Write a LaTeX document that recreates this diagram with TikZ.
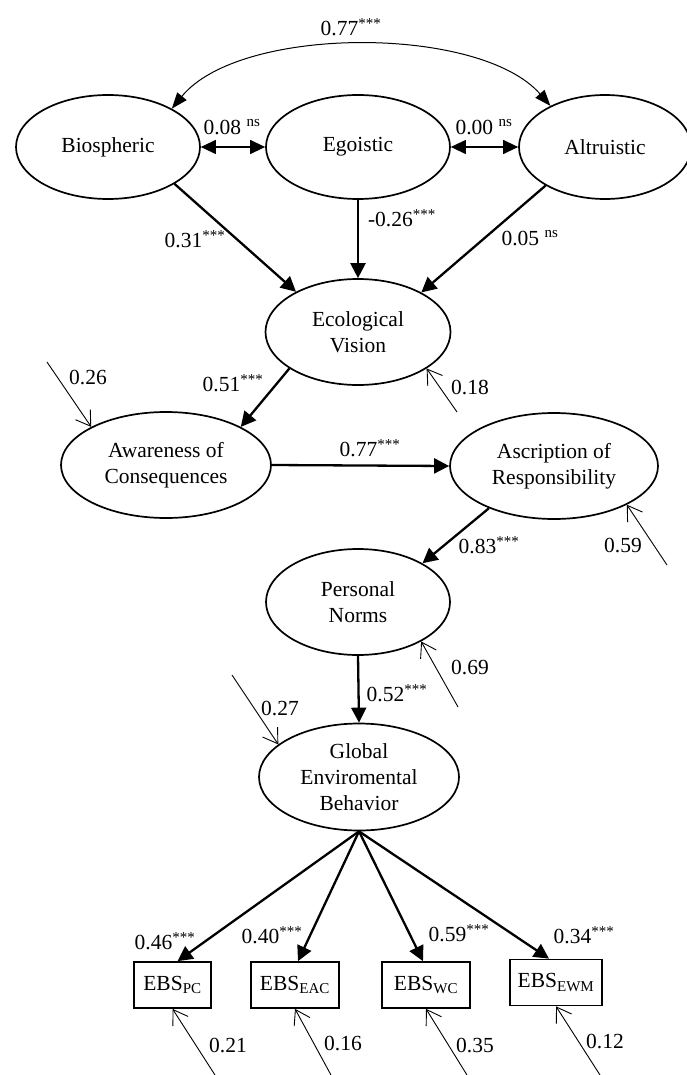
\documentclass[tikz,border=0pt]{standalone}
\usepackage{fontspec}
\setmainfont{Liberation Serif}
\usetikzlibrary{shapes.geometric, arrows.meta}
\tikzstyle{latent} = [ellipse, draw=black, line width=1.7pt, inner sep=0pt, align=center]
\tikzstyle{observed} = [rectangle, draw=black, line width=1.7pt, minimum height=46pt, inner sep=0pt]
\tikzstyle{regarrow} = [line width=2.3pt, -{Triangle[length=15pt,width=15pt]}]
\tikzstyle{corarrow} = [line width=1.2pt, {Triangle[length=15pt,width=14pt]}-{Triangle[length=15pt,width=14pt]}]
\tikzstyle{errarrow} = [line width=0.9pt, -{Straight Barb[length=14pt,width=18pt]}]
\tikzstyle{coef} = [inner sep=0pt]

\begin{document}
\begin{tikzpicture}[x=1pt, y=-1pt, font=\fontsize{21.5}{26}\selectfont]

  \useasboundingbox (0,0) rectangle (687,1075);

  % values
  \node[latent, minimum width=184pt, minimum height=104pt] (bio) at (108,147) {Biospheric};
  \node[latent, minimum width=184pt, minimum height=104pt] (ego) at (358,147) {Egoistic};
  \node[latent, minimum width=172pt, minimum height=104pt] (alt) at (605,147) {Altruistic};

  \draw[corarrow] (bio.east) -- (ego.west);
  \draw[corarrow] (ego.east) -- (alt.west);
  \draw[line width=1pt, {Triangle[length=16pt,width=12pt]}-{Triangle[length=16pt,width=12pt]}]
    (bio.31) .. controls (240,25) and (480,25) .. (alt.143);

  \node[coef] (c1) at (351,27) {0.77\textsuperscript{***}};
  \node[coef] (c2) at (232,127) {0.08 \textsuperscript{ns}};
  \node[coef] (c3) at (484,127) {0.00 \textsuperscript{ns}};

  % ecological vision
  \node[latent, minimum width=185pt, minimum height=106pt] (ev) at (358,332) {Ecological\\Vision};

  \draw[regarrow] (bio.-29) -- (ev.147);
  \draw[regarrow] (ego.south) -- (ev.north);
  \draw[regarrow] (alt.-147) -- (ev.32);

  \node[coef] (c4) at (195,239) {0.31\textsuperscript{***}};
  \node[coef] (c5) at (402,218) {-0.26\textsuperscript{***}};
  \node[coef] (c6) at (530,238) {0.05 \textsuperscript{ns}};

  \coordinate (eev) at (457,412);
  \draw[errarrow] (eev) -- (ev.-28);
  \node[coef] (c7) at (470,388) {0.18};

  % awareness and ascription
  \node[latent, minimum width=210pt, minimum height=106pt] (ac) at (166,465) {Awareness of\\Consequences};
  \node[latent, minimum width=208pt, minimum height=106pt] (ar) at (554,466) {Ascription of\\Responsibility};

  \draw[regarrow] (ev.-152) -- (ac.27);
  \draw[regarrow] (ac.east) -- (ar.west);

  \node[coef] (c8) at (233,383) {0.51\textsuperscript{***}};
  \node[coef] (c9) at (370,448) {0.77\textsuperscript{***}};

  \coordinate (eac) at (47,362);
  \draw[errarrow] (eac) -- (ac.153);
  \node[coef] (c10) at (88,378) {0.26};

  \coordinate (ear) at (667,565);
  \draw[errarrow] (ear) -- (ar.-28);
  \node[coef] (c11) at (623,545) {0.59};

  % personal norms
  \node[latent, minimum width=184pt, minimum height=106pt] (pn) at (358,602) {Personal\\Norms};

  \draw[regarrow] (ar.-147) -- (pn.31);
  \node[coef] (c12) at (489,545) {0.83\textsuperscript{***}};

  \coordinate (epn) at (458,707);
  \draw[errarrow] (epn) -- (pn.-32);
  \node[coef] (c13) at (470,667) {0.69};

  % behavior
  \node[latent, minimum width=200pt, minimum height=107pt] (geb) at (359,777) {Global\\Enviromental\\Behavior};

  \draw[regarrow] (pn.south) -- (geb.north);
  \node[coef] (c14) at (397,693) {0.52\textsuperscript{***}};

  \coordinate (egeb) at (232,675);
  \draw[errarrow] (egeb) -- (geb.158);
  \node[coef] (c15) at (280,708) {0.27};

  % indicators
  \node[observed, minimum width=77pt] (pc) at (172.5,985) {EBS\textsubscript{PC}};
  \node[observed, minimum width=88pt] (eac2) at (295,985) {EBS\textsubscript{EAC}};
  \node[observed, minimum width=88pt] (wc) at (426,985) {EBS\textsubscript{WC}};
  \node[observed, minimum width=92pt] (ewm) at (556,982.5) {EBS\textsubscript{EWM}};

  \draw[regarrow] (geb.south) -- ([xshift=5pt]pc.north);
  \draw[regarrow] (geb.south) -- ([xshift=3pt]eac2.north);
  \draw[regarrow] (geb.south) -- ([xshift=-3pt]wc.north);
  \draw[regarrow] (geb.south) -- ([xshift=-7pt]ewm.north);

  \node[coef] (c16) at (165,941) {0.46\textsuperscript{***}};
  \node[coef] (c17) at (272,935) {0.40\textsuperscript{***}};
  \node[coef] (c18) at (459,933) {0.59\textsuperscript{***}};
  \node[coef] (c19) at (584,935) {0.34\textsuperscript{***}};

  \coordinate (epc) at (215,1075);
  \coordinate (eeac) at (331,1075);
  \coordinate (ewc) at (467,1075);
  \coordinate (eewm) at (600,1075);
  \draw[errarrow] (epc) -- (pc.south);
  \draw[errarrow] (eeac) -- (eac2.south);
  \draw[errarrow] (ewc) -- (wc.south);
  \draw[errarrow] (eewm) -- (ewm.south);

  \node[coef] (c20) at (228,1045) {0.21};
  \node[coef] (c21) at (343,1043) {0.16};
  \node[coef] (c22) at (475,1045) {0.35};
  \node[coef] (c23) at (605,1041) {0.12};

\end{tikzpicture}
\end{document}
